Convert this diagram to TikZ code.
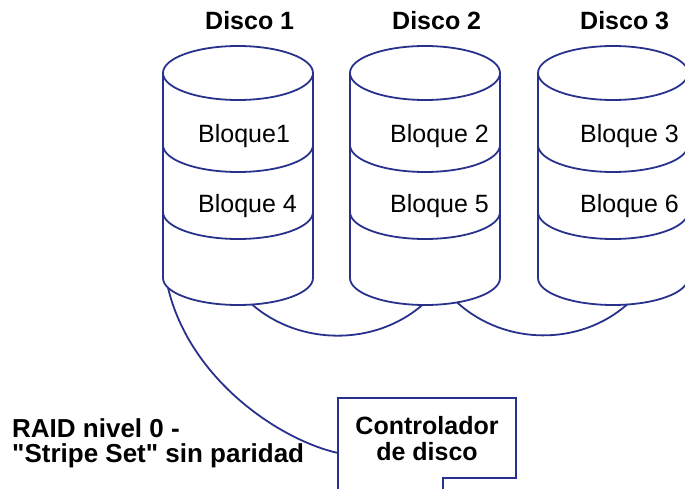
\documentclass[tikz,border=0pt]{standalone}
\usepackage{fontspec}
\setmainfont{Liberation Sans}[Ligatures=TeXOff]
\usetikzlibrary{calc}
\definecolor{dblue}{RGB}{40,50,140}
\begin{document}
\begin{tikzpicture}[x=1pt,y=1pt,
  cyl/.style={draw=dblue,line width=1.8pt},
  wire/.style={draw=dblue,line width=1.8pt},
  lbl/.style={font=\fontsize{25}{26}\selectfont,inner sep=0pt,anchor=base west},
  hdr/.style={font=\fontsize{25}{26}\selectfont\bfseries,inner sep=0pt,anchor=base west}]
\useasboundingbox (0,0) rectangle (685,488);
\clip (0,0) rectangle (685,488);
% cylinders
\foreach \cx in {238,425,613}{
  \draw[cyl] (\cx,415) ellipse[x radius=75,y radius=27];
  \draw[cyl] (\cx-75,415) -- (\cx-75,210) arc[start angle=180,end angle=360,x radius=75,y radius=27] -- (\cx+75,415);
  \draw[cyl] (\cx-75,343) arc[start angle=180,end angle=360,x radius=75,y radius=27];
  \draw[cyl] (\cx-75,276) arc[start angle=180,end angle=360,x radius=75,y radius=27];
}
% labels
\node[hdr] (d1) at (205,458) {Disco 1};
\node[hdr] (d2) at (392,458) {Disco 2};
\node[hdr] (d3) at (580,458) {Disco 3};
\node[lbl] (b1) at (198,345) {Bloque1};
\node[lbl] (b4) at (198,276) {Bloque 4};
\node[lbl] (b2) at (390,345) {Bloque 2};
\node[lbl] (b5) at (390,276) {Bloque 5};
\node[lbl] (b3) at (580,345) {Bloque 3};
\node[lbl] (b6) at (580,276) {Bloque 6};
% connection points on bottom ellipses
\coordinate (c1w) at ($(238,210)+(201:75 and 27)$);
\coordinate (c1r) at ($(238,210)+(280.8:75 and 27)$);
\coordinate (c2l) at ($(425,210)+(268:75 and 27)$);
\coordinate (c2r) at ($(425,210)+(295.3:75 and 27)$);
\coordinate (c3l) at ($(613,210)+(280.8:75 and 27)$);
% controller box
\draw[wire] (338,-5) -- (338,90) -- (516,90) -- (516,10) -- (443,10) -- (443,-5);
\node[font=\fontsize{25}{26}\selectfont\bfseries,align=center,inner sep=0pt] (ctrl) at (427,49) {Controlador\\de disco};
\coordinate (cw) at (338,35);
% connectors
\draw[wire] (c1r) .. controls (300,142) and (375,142) .. (c2l);
\draw[wire] (c2r) .. controls (505,142) and (580,142) .. (c3l);
\draw[wire] (c1w) .. controls (190,108) and (280,48) .. (cw);
% caption
\node[font=\fontsize{26}{25.5}\selectfont\bfseries,align=left,inner sep=0pt,anchor=north west] (cap) at (12,70) {RAID nivel 0 -\\"Stripe Set" sin paridad};
\end{tikzpicture}
\end{document}
